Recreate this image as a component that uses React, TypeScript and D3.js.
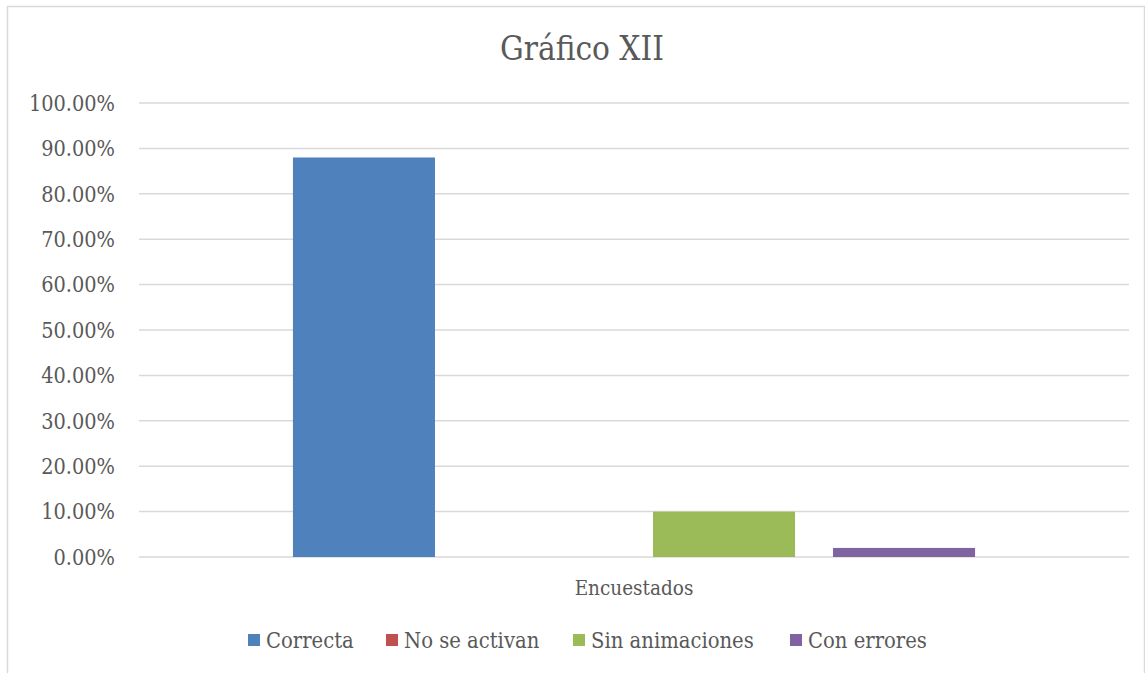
import React from "react";
import * as d3 from "d3";

const title = "Gráfico XII";
const categories = ["Encuestados"];
const seriesNames = ["Correcta", "No se activan", "Sin animaciones", "Con errores"];
const seriesValues = [0.88, 0.0, 0.1, 0.02];
const seriesColors = ["#4F81BD", "#C0504D", "#9BBB59", "#8064A2"];
const yTicks = [0, 0.1, 0.2, 0.3, 0.4, 0.5, 0.6, 0.7, 0.8, 0.9, 1.0];

const W = 1145;
const H = 673;
const FONT = "'DejaVu Serif Condensed', 'DejaVu Serif', serif";
const TXT = "#595959";

export default function App() {
  const left = 139, right = 1129, top = 103, bottom = 557;
  const y = d3.scaleLinear().domain([0, 1]).range([bottom, top]);
  const x0 = d3.scaleBand().domain(categories).range([left, right]).padding(0);
  const cw = x0.bandwidth();
  const side = cw * 0.1555;
  const x1 = d3.scaleBand().domain(seriesNames).range([side, cw - side]).paddingInner(0.211).paddingOuter(0);
  const fmt = d3.format(".2%");

  const legendX = [248, 386, 573, 790];

  return (
    <svg width={W} height={H} style={{ position: "absolute", left: 0, top: 0 }} fontFamily={FONT}>
      <rect x={7.5} y={6.5} width={1137} height={680} fill="#fff" stroke="#D9D9D9" strokeWidth={1.5} />
      <text x={582} y={60} textAnchor="middle" fontSize={33} fill={TXT}>{title}</text>
      {yTicks.map((t) => (
        <g key={t}>
          <line x1={left} x2={right} y1={y(t)} y2={y(t)} stroke="#D9D9D9" strokeWidth={1.5} />
          <text x={115} y={y(t)} dy="0.36em" textAnchor="end" fontSize={21.5} fill={TXT}>{fmt(t)}</text>
        </g>
      ))}
      {categories.map((c) => (
        <g key={c} transform={`translate(${x0(c)},0)`}>
          {seriesNames.map((s, i) => (
            <rect key={s} x={x1(s)} y={y(seriesValues[i])} width={x1.bandwidth()} height={bottom - y(seriesValues[i])} fill={seriesColors[i]} />
          ))}
          <text x={cw / 2} y={588} dy="0.36em" textAnchor="middle" fontSize={20.5} fill={TXT}>{c}</text>
        </g>
      ))}
      {seriesNames.map((s, i) => (
        <g key={s} transform={`translate(${legendX[i]},640)`}>
          <rect x={0} y={-6} width={12} height={12} fill={seriesColors[i]} />
          <text x={18} y={0} dy="0.36em" fontSize={21.8} fill={TXT}>{s}</text>
        </g>
      ))}
    </svg>
  );
}
